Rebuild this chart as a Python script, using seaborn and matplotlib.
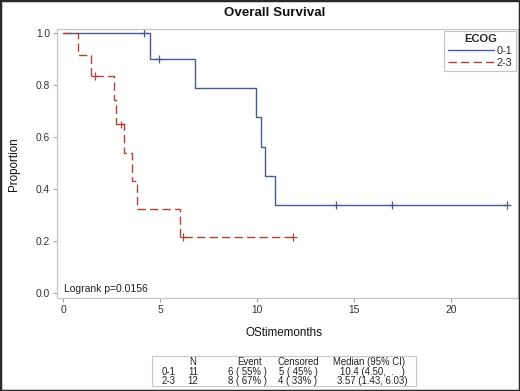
import numpy as np
import pandas as pd
import seaborn as sns
import matplotlib.pyplot as plt
from matplotlib.patches import Rectangle

# -------------------------------
# Data
# -------------------------------
groups = ['0-1', '2-3']
times_01 = [4.17, 4.50, 4.95, 6.80, 9.93, 10.19, 10.40, 10.90, 14.05, 16.94, 22.87]
event_01 = [0, 1, 0, 1, 1, 1, 1, 1, 0, 0, 0]
times_23 = [0.79, 1.43, 1.65, 2.63, 2.75, 2.99, 3.14, 3.57, 3.80, 6.03, 6.20, 11.87]
event_23 = [1, 1, 0, 1, 1, 0, 1, 1, 1, 1, 0, 0]

x_ticks = [0, 5, 10, 15, 20]
y_ticks = [0.0, 0.2, 0.4, 0.6, 0.8, 1.0]

logrank_label = 'Logrank p=0.0156'
table_header = ['N', 'Event', 'Censored', 'Median (95% CI)']
medians = ['10.4 (4.50,  .   )', '3.57 (1.43, 6.03)']

colors = {'0-1': '#4a5a94', '2-3': '#a8463a'}


# -------------------------------
# Kaplan-Meier estimate
# -------------------------------
def km(times, events, grp):
    order = np.argsort(times)
    n = len(times)
    s = 1.0
    xs, ys, cx, cy = [0.0], [1.0], [], []
    for i in order:
        if events[i]:
            s *= (n - 1) / n
            xs.append(times[i])
            ys.append(s)
        else:
            cx.append(times[i])
            cy.append(s)
        n -= 1
    xs.append(max(times))
    ys.append(s)
    curve = pd.DataFrame({'time': xs, 'surv': ys, 'ECOG': grp})
    cens = pd.DataFrame({'time': cx, 'surv': cy, 'ECOG': grp})
    return curve, cens


c1, z1 = km(times_01, event_01, '0-1')
c2, z2 = km(times_23, event_23, '2-3')
curves = pd.concat([c1, c2], ignore_index=True)
censored = pd.concat([z1, z2], ignore_index=True)

# -------------------------------
# Figure
# -------------------------------
sns.set_theme(style='white')
plt.rcParams['font.family'] = ['Liberation Sans', 'DejaVu Sans']

W, H = 520, 391
fig = plt.figure(figsize=(W / 100, H / 100), dpi=100)


def px(x, y):
    return x / W, 1 - y / H


ax = fig.add_axes([57 / W, 1 - 298 / H, (518 - 57) / W, (298 - 29) / H])

sns.lineplot(data=curves, x='time', y='surv', hue='ECOG', style='ECOG',
             palette=colors, dashes={'0-1': '', '2-3': (6, 3)},
             estimator=None, sort=False, drawstyle='steps-post',
             linewidth=1.0, ax=ax, legend=False)
sns.scatterplot(data=censored, x='time', y='surv', hue='ECOG', palette=colors,
                marker='+', s=30, linewidth=0.9, ax=ax, legend=False)

ax.set_xlim(-0.31, 23.45)
ax.set_ylim(-0.019, 1.015)
ax.set_xticks(x_ticks)
ax.set_yticks(y_ticks)
ax.set_yticklabels([f'{v:.1f}' for v in y_ticks])
ax.tick_params(axis='both', which='both', length=3, width=0.7, color='#a0a0a0',
               labelsize=7.4, labelcolor='#333333', pad=2, bottom=True, left=True)
for sp in ax.spines.values():
    sp.set_color('#c4c4c4')
    sp.set_linewidth(0.9)
ax.set_xlabel('')
ax.set_ylabel('')

# legend
handles = [plt.Line2D([], [], color=colors['0-1'], lw=1.0),
           plt.Line2D([], [], color=colors['2-3'], lw=1.0, ls=(0, (6, 3)))]
leg = ax.legend(handles, groups, title='ECOG', loc='upper right', fontsize=7.8,
                title_fontsize=8, frameon=True, fancybox=False, framealpha=1,
                edgecolor='#c4c4c4', handlelength=4.2, borderaxespad=0.15,
                borderpad=0.35, labelspacing=0.15, handletextpad=0.3)
leg.get_title().set_fontweight('bold')
leg.get_frame().set_linewidth(0.8)

# texts
fig.text(*px(275, 13), 'Overall Survival', ha='center', va='center',
         fontsize=9.6, fontweight='bold', color='#111111')
fig.text(*px(284, 333), 'OStimemonths', ha='center', va='center',
         fontsize=8.4, color='#111111')
fig.text(*px(14, 164), 'Proportion', ha='center', va='center', rotation=90,
         fontsize=8.4, color='#111111')
fig.text(*px(64, 288.5), logrank_label, ha='left', va='center',
         fontsize=7.5, color='#222222')

# summary table
fs = 6.9
fig.patches.append(Rectangle(px(152, 385.5), (416 - 152) / W, (385.5 - 356) / H,
                             transform=fig.transFigure, fill=False,
                             edgecolor='#c8c8c8', linewidth=0.8))
head_x = [193, 250, 298.5, 369]
for hx, txt in zip(head_x, table_header):
    fig.text(*px(hx, 362), txt, ha='center', va='center', fontsize=fs, color='#222222')

n_list = [len(times_01), len(times_23)]
ev_list = [sum(event_01), sum(event_23)]
row_y = [371.7, 380.7]
for i, g in enumerate(groups):
    n, e = n_list[i], ev_list[i]
    c = n - e
    y = row_y[i]
    fig.text(*px(169, y), g, ha='center', va='center', fontsize=fs, color='#222222')
    fig.text(*px(193, y), str(n), ha='center', va='center', fontsize=fs, color='#222222')
    fig.text(*px(247, y), f'{e} ( {round(100 * e / n)}% )', ha='center', va='center',
             fontsize=fs, color='#222222')
    fig.text(*px(298, y), f'{c} ( {round(100 * c / n)}% )', ha='center', va='center',
             fontsize=fs, color='#222222')
    fig.text(*px(372, y), medians[i], ha='center', va='center', fontsize=fs,
             color='#222222')

# outer frame
fig.patches.append(Rectangle((0, 0), 1, 1, transform=fig.transFigure, fill=False,
                             edgecolor='#2a2a2a', linewidth=2.5))

fig.savefig('out.png', dpi=100)
plt.close(fig)
